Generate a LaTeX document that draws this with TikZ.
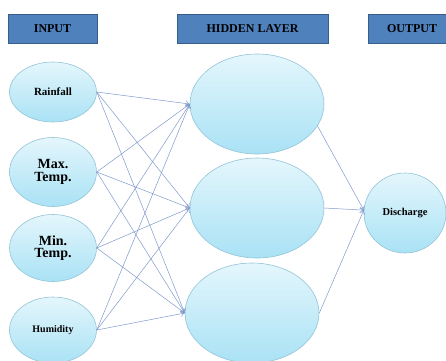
\documentclass[tikz,border=0pt]{standalone}
\usepackage{fontspec}
\setmainfont{Liberation Serif}
\usetikzlibrary{shapes.geometric,arrows.meta}
\definecolor{headfill}{HTML}{4F81BD}
\definecolor{headline}{HTML}{385D8A}
\definecolor{celltop}{HTML}{E4F6FC}
\definecolor{cellbot}{HTML}{A9E2F5}
\definecolor{cellline}{HTML}{93C4D6}
\definecolor{wire}{HTML}{7F99CC}
\begin{document}
\begin{tikzpicture}[x=1pt,y=-1pt,->,>={To[length=4pt,width=6pt]},draw=wire]
    \tikzstyle{header}=[rectangle,draw=headline,line width=0.8pt,fill=headfill,minimum height=29pt,inner sep=0pt,font=\fontsize{12}{12}\selectfont\bfseries]
    \tikzstyle{neuron}=[ellipse,draw=cellline,top color=celltop,bottom color=cellbot,inner sep=0pt,align=center,line width=0.6pt]
    \tikzstyle{input neuron}=[neuron,minimum width=87pt];
    \tikzstyle{hidden neuron}=[neuron,minimum width=134pt,minimum height=100pt];
    \tikzstyle{output neuron}=[neuron,minimum width=82pt,minimum height=80pt];
    \useasboundingbox (0,0) rectangle (446,360);
    % Draw the layer titles
    \node[header,minimum width=89pt] (T-in) at (52.5,28.5) {INPUT};
    \node[header,minimum width=151pt] (T-hid) at (252.5,28.5) {HIDDEN LAYER};
    \node[header,minimum width=88pt] (T-out) at (412,28.5) {OUTPUT};
    % Draw the input layer nodes
    \node[input neuron,minimum height=60pt,font=\fontsize{11}{11}\selectfont\bfseries] (I-1) at (53,92) {Rainfall};
    \node[input neuron,minimum height=69pt,font=\fontsize{14}{12.5}\selectfont\bfseries] (I-2) at (53,172) {Max.\\Temp.};
    \node[input neuron,minimum height=67pt,font=\fontsize{14}{12.5}\selectfont\bfseries] (I-3) at (53,248) {Min.\\Temp.};
    \node[input neuron,minimum height=66pt,font=\fontsize{10}{10}\selectfont\bfseries] (I-4) at (53,330) {Humidity};
    % Draw the hidden layer nodes
    \node[hidden neuron] (H-1) at (257,104) {};
    \node[hidden neuron] (H-2) at (257,208) {};
    \node[hidden neuron] (H-3) at (252,313) {};
    % Draw the output layer node
    \node[output neuron,font=\fontsize{10.5}{10.5}\selectfont\bfseries] (O) at (405,213) {Discharge};
    % Connect every input with every hidden node
    \foreach \source in {1,...,4}
        \foreach \dest in {1,...,3}
            \path[line width=0.5pt] (I-\source.east) edge (H-\dest.west);
    % Connect hidden layer to output
    \path[line width=0.5pt] (H-1.-20) edge (O.176)
        (H-2.east) edge (O.176)
        (H-3.east) edge (O.176);
\end{tikzpicture}
\end{document}
